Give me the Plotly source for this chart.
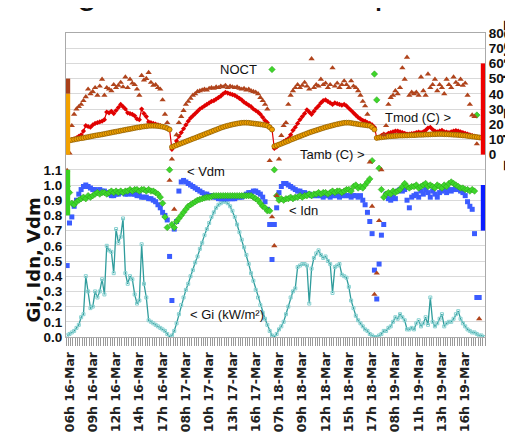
import plotly.graph_objects as go

# ---------------- data (one value per sample, 4 days of daylight samples) ----------------
tick_labels = ["06h 16-Mar", "09h 16-Mar", "12h 16-Mar", "14h 16-Mar", "17h 16-Mar",
               "08h 17-Mar", "10h 17-Mar", "13h 17-Mar", "16h 17-Mar",
               "07h 18-Mar", "09h 18-Mar", "12h 18-Mar", "15h 18-Mar", "17h 18-Mar",
               "08h 19-Mar", "11h 19-Mar", "13h 19-Mar", "16h 19-Mar"]
tick_first = 1
tick_every = 10

gi = [0.01,0.02,0.03,0.04,0.06,0.08,0.13,0.15,0.40,0.30, 0.19,0.20,0.30,0.26,0.30,0.38,0.28,0.60,0.57,0.56,
      0.42,0.71,0.62,0.66,0.78,0.42,0.35,0.40,0.38,0.28, 0.22,0.24,0.61,0.35,0.26,0.11,0.10,0.09,0.08,0.07,
      0.06,0.05,0.04,0.02,0.00,
      0.01,0.04,0.09,0.15,0.21,0.26,0.31,0.35,0.40,0.44, 0.49,0.53,0.58,0.62,0.67,0.71,0.75,0.79,0.82,0.85,
      0.87,0.88,0.89,0.89,0.88,0.86,0.83,0.79,0.74,0.69, 0.64,0.59,0.54,0.48,0.42,0.37,0.31,0.26,0.21,0.16,
      0.12,0.08,0.04,0.01,
      0.00,0.02,0.05,0.07,0.10,0.15,0.20,0.26,0.30,0.32, 0.46,0.47,0.48,0.48,0.47,0.22,0.45,0.52,0.55,0.57,
      0.54,0.52,0.53,0.50,0.48,0.29,0.46,0.47,0.48,0.41, 0.40,0.39,0.33,0.24,0.19,0.14,0.11,0.09,0.07,0.05,
      0.04,0.02,0.01,0.00,
      0.00,0.01,0.02,0.04,0.04,0.06,0.07,0.10,0.13,0.12, 0.15,0.13,0.11,0.05,0.05,0.06,0.05,0.09,0.11,0.07,
      0.09,0.13,0.08,0.26,0.10,0.07,0.09,0.12,0.15,0.07, 0.09,0.10,0.10,0.12,0.15,0.17,0.12,0.09,0.07,0.05,
      0.04,0.03,0.03,0.02,0.01,0.01,0.00]

idn = [0.47,0.75,0.79,0.86,0.90,0.94,0.97,0.99,1.00,0.99, 0.98,0.97,0.97,0.96,0.97,0.96,0.96,0.95,0.94,0.93,
       0.93,0.94,0.94,0.95,0.95,0.94,0.94,0.95,0.94,0.94, 0.93,0.93,0.92,0.92,0.92,0.91,0.91,0.90,0.89,0.87,
       0.85,0.82,0.80,0.77,0.53,
       0.24,0.71,0.76,0.96,1.02,1.03,1.02,1.01,1.00,0.99, 0.98,0.97,0.96,0.95,0.94,0.94,0.93,0.93,0.92,0.92,
       0.91,0.91,0.91,0.91,0.91,0.91,0.91,0.91,0.92,0.92, 0.92,0.93,0.94,0.95,0.95,0.96,0.96,0.95,0.94,0.92,
       0.89,0.84,0.74,0.51,
       0.74,0.85,0.95,0.99,1.01,1.01,1.00,0.99,0.98,0.97, 0.96,0.96,0.95,0.95,0.94,0.94,0.93,0.93,0.93,0.93,
       0.93,0.92,0.93,0.93,0.92,0.93,0.93,0.93,0.92,0.93, 0.93,0.93,0.93,0.92,0.93,0.93,0.92,0.93,0.90,0.87,
       0.82,0.76,0.68,0.44,
       0.25,0.48,0.67,0.74,0.94,0.91,0.90,0.92,0.91,0.96, 0.97,0.96,0.97,0.90,0.85,0.92,0.93,0.94,0.92,0.96,
       0.94,0.97,0.95,0.92,0.96,0.94,0.92,0.95,0.96,0.97, 0.95,0.97,0.96,0.97,0.98,0.97,0.96,0.95,0.93,0.89,
       0.86,0.84,0.68,0.26,0.26,None,None]

vdm = [0.99,0.95,0.88,0.87,0.89,0.90,0.91,0.92,0.91,0.93, 0.92,0.93,0.94,0.95,0.94,0.95,0.95,0.94,0.95,0.96,
       0.95,0.96,0.95,0.96,0.95,0.96,0.96,0.97,0.96,0.97, 0.97,0.96,0.97,0.97,0.96,0.97,0.96,0.96,0.95,0.94,
       0.92,0.88,0.79,0.72,1.10,
       0.74,0.72,0.76,0.78,0.80,0.82,0.84,0.86,0.87,0.88, 0.89,0.90,0.905,0.91,0.915,0.92,0.92,0.925,0.93,0.93,
       0.93,0.93,0.93,0.93,0.93,0.93,0.93,0.93,0.93,0.93, 0.93,0.93,0.93,0.93,0.93,0.92,0.91,0.90,0.88,0.86,
       0.85,0.83,0.83,1.76,
       1.10,0.93,0.90,0.91,0.90,0.91,0.91,0.92,0.91,0.92, 0.92,0.93,0.92,0.93,0.93,0.94,0.93,0.94,0.94,0.95,
       0.94,0.95,0.95,0.94,0.95,0.96,0.95,0.96,0.96,0.95, 0.96,0.97,0.97,0.96,0.99,1.00,0.98,0.99,0.98,1.00,
       1.02,1.04,1.16,1.73,
       1.56,1.11,0.97,0.92,0.94,0.95,0.94,0.96,0.95,0.96, 0.97,0.99,1.01,0.99,0.98,0.99,0.99,1.00,0.98,0.99,
       1.00,1.01,0.99,1.00,0.99,0.98,1.00,0.99,0.98,1.00, 0.99,1.01,1.02,1.01,1.00,0.99,0.98,0.98,0.97,0.97,
       0.96,0.97,0.96,1.46,None,None,None]

tmod = [9.0,9.3,9.8,10.3,11.0,12.0,13.0,15.5,19.0,18.5, 18.0,19.5,20.5,21.0,21.5,22.0,23.0,28.0,27.5,28.5,
        27.0,29.0,31.0,33.0,31.5,30.0,27.5,27.0,26.5,25.5, 23.5,23.0,30.0,27.0,25.0,21.5,21.0,20.5,20.0,19.5,
        19.0,18.5,18.0,17.5,16.5,
        3.5,6.0,9.0,12.0,14.5,17.0,19.5,22.0,24.0,25.5, 27.0,28.5,30.0,31.0,32.0,33.0,34.0,35.0,35.5,36.5,
        37.5,38.5,40.0,41.0,40.5,40.0,39.5,39.0,38.0,37.0, 36.0,34.5,33.5,32.5,31.5,30.0,29.0,28.0,26.5,24.5,
        22.5,21.0,18.5,16.5,
        4.0,5.0,6.5,7.5,8.5,9.5,10.5,13.0,16.0,18.0, 20.5,23.0,25.0,27.0,29.5,28.0,26.5,28.5,30.5,32.0,
        34.0,35.5,36.0,35.0,34.0,33.0,34.0,33.5,33.0,32.5, 33.0,32.0,30.5,29.0,27.5,26.0,24.5,23.5,22.5,22.0,
        21.0,20.5,19.5,18.0,
        11.0,11.5,12.5,13.5,13.0,14.0,14.5,15.0,15.5,15.5, 15.0,14.5,14.0,13.5,13.5,13.8,14.0,14.5,14.8,14.5,
        15.0,16.0,17.5,18.0,16.5,15.5,15.0,15.5,16.0,15.0, 14.8,14.5,15.0,15.5,15.8,15.5,15.0,14.5,14.0,13.5,
        13.0,12.5,12.0,11.5,11.2,11.0,11.0]

tamb = [9.0,9.3,9.6,9.9,10.2,10.5,10.8,11.0,11.3,11.6, 11.9,12.2,12.5,12.8,13.0,13.3,13.6,13.9,14.2,14.5,
        14.8,15.1,15.4,15.7,16.0,16.3,16.6,16.9,17.2,17.5, 17.8,18.0,18.3,18.5,18.7,18.9,19.0,19.0,18.9,18.8,
        18.6,18.3,18.0,17.3,16.5,
        5.0,5.6,6.2,6.8,7.4,8.0,8.6,9.2,9.8,10.4, 11.0,11.6,12.2,12.8,13.4,14.0,14.6,15.2,15.8,16.4,
        17.0,17.6,18.1,18.6,19.0,19.4,19.8,20.1,20.4,20.7, 20.9,21.0,21.0,20.9,20.7,20.5,20.3,20.1,19.9,19.7,
        19.4,19.0,18.0,16.5,
        5.5,6.0,6.6,7.2,7.8,8.4,9.0,9.7,10.3,10.9, 11.5,12.1,12.7,13.3,13.9,14.5,15.0,15.5,16.0,16.5,
        17.0,17.5,18.0,18.4,18.8,19.2,19.6,20.0,20.3,20.6, 20.9,21.0,21.0,20.8,20.5,20.3,20.0,19.8,19.6,19.4,
        19.2,19.0,18.0,16.5,
        11.0,11.2,11.4,11.6,11.8,12.0,12.1,12.2,12.3,12.4, 12.5,12.5,12.6,12.6,12.7,12.8,12.8,12.9,13.0,13.0,
        13.1,13.2,13.2,13.3,13.4,13.4,13.5,13.5,13.5,13.4, 13.4,13.3,13.2,13.1,13.0,12.9,12.8,12.6,12.5,12.3,
        12.1,11.9,11.7,11.5,11.3,11.1,11.0]

noct = [-10.5,1.0,19.0,26.5,30.0,31.5,33.0,35.5,38.0,43.0, 40.0,41.5,44.0,39.0,45.0,49.5,39.0,44.0,43.0,42.0,
        46.0,44.0,45.5,47.5,44.5,51.0,44.0,49.5,47.0,46.0, 43.0,39.0,52.0,49.0,50.0,54.0,47.5,45.5,46.0,44.0,
        43.0,36.0,26.5,21.0,-17.0,
        -3.0,-36.0,13.0,21.0,25.0,29.0,33.0,35.0,37.0,39.0, 40.0,41.5,42.0,42.5,43.0,42.5,43.5,44.0,43.5,44.5,
        44.0,45.0,44.5,45.5,44.0,45.0,44.5,44.0,44.5,43.5, 43.0,43.5,42.5,43.0,42.0,41.5,41.0,40.0,37.5,35.5,
        33.0,30.0,-4.0,-41.0,
        -60.0,-27.0,-3.0,12.5,19.0,21.0,33.0,39.0,42.0,44.0, 46.0,44.0,45.5,47.5,45.0,43.0,63.0,44.0,46.0,45.0,
        49.5,46.0,47.0,44.0,46.0,57.0,45.0,47.0,44.0,46.0, 48.5,46.0,44.0,48.5,45.0,44.0,42.0,39.0,35.0,32.0,
        26.5,-5.0,-34.0,-92.0,
        -78.0,-43.5,-10.0,13.0,19.0,33.0,37.5,39.0,42.0,40.0, 44.0,57.0,49.5,64.0,39.0,41.0,40.0,41.0,39.0,51.0,
        42.0,39.0,53.0,44.0,46.0,49.5,42.0,46.0,44.0,40.0, 49.5,46.0,44.0,51.0,47.5,46.0,49.5,45.5,47.0,39.0,
        33.0,26.0,25.0,7.0,-108.0,None,None]

# range bars drawn against the plot edges: (axis, low, high, colour)
left_bars = [("y2", 40, 50, "#a8401a"), ("y2", 0, 40, "#f2a100"), ("y", 0.8, 1.1, "#39d11f")]
right_bars = [("y2", 0, 60, "#ee0000"), ("y", 0.7, 1.0, "#0a1cff")]

# chart title (it sits above the picture; only its descenders reach inside)
title_text = "Degradation and Temperature"

n = len(gi)
x = list(range(n))
tickvals = [tick_first + k * tick_every for k in range(len(tick_labels))]

fig = go.Figure()
fig.add_trace(go.Scatter(x=x, y=gi, mode="lines+markers", name="Gi",
                         line=dict(color="#2f9c9c", width=1.3),
                         marker=dict(symbol="square-open", size=3, color="#86d0d0", line=dict(width=1))))
fig.add_trace(go.Scatter(x=x, y=idn, mode="markers", name="Idn",
                         marker=dict(symbol="square", size=5, color="#3b5cff")))
fig.add_trace(go.Scatter(x=x, y=vdm, mode="markers", name="Vdm",
                         marker=dict(symbol="diamond", size=5, color="#3ed62a",
                                     line=dict(color="#2a9a1a", width=0.5))))
fig.add_trace(go.Scatter(x=x, y=tmod, mode="lines+markers", name="Tmod", yaxis="y2",
                         line=dict(color="#e00000", width=1.2),
                         marker=dict(symbol="diamond", size=4, color="#e00000")))
fig.add_trace(go.Scatter(x=x, y=tamb, mode="markers", name="Tamb", yaxis="y2",
                         marker=dict(symbol="circle", size=5, color="#f0a000",
                                     line=dict(color="#8a5a00", width=0.7))))
fig.add_trace(go.Scatter(x=x, y=noct, mode="markers", name="NOCT", yaxis="y2",
                         marker=dict(symbol="triangle-up", size=5.5, color="#b0441c")))

shapes = []
for ax, lo, hi, col in left_bars:
    shapes.append(dict(type="rect", xref="paper", yref=ax, x0=0.0, x1=0.01, y0=lo, y1=hi,
                       fillcolor=col, line=dict(width=0), layer="above"))
for ax, lo, hi, col in right_bars:
    shapes.append(dict(type="rect", xref="paper", yref=ax, x0=0.99, x1=1.0, y0=lo, y1=hi,
                       fillcolor=col, line=dict(width=0), layer="above"))

lab_font = dict(family="Liberation Sans, Arial", size=13, color="#111")
annotations = [
    dict(x=73.8, y=56, xref="x", yref="y2", text="NOCT", showarrow=False, font=lab_font),
    dict(x=135.7, y=24.4, xref="x", yref="y2", text="Tmod (C) >", showarrow=False, xanchor="left", font=lab_font),
    dict(x=99.2, y=0, xref="x", yref="y2", text="Tamb (C) >", showarrow=False, xanchor="left", font=lab_font),
    dict(x=50.6, y=1.086, xref="x", yref="y", text="< Vdm", showarrow=False, xanchor="left", font=lab_font),
    dict(x=94.4, y=0.834, xref="x", yref="y", text="< Idn", showarrow=False, xanchor="left", font=lab_font),
    dict(x=51.9, y=0.146, xref="x", yref="y", text="< Gi (kW/m²)", showarrow=False, xanchor="left", font=lab_font),
    dict(x=-0.0788, y=0.51, xref="paper", yref="y", text="Gi, Idn, Vdm", showarrow=False,
         xanchor="center", yanchor="middle", textangle=-90,
         font=dict(family="DejaVu Sans", size=18, color="#111", weight="bold")),
    dict(x=1.056, y=39.3, xref="paper", yref="y2", text="Tamb, Tmod; NOCT", showarrow=False,
         xanchor="center", yanchor="middle", textangle=-90,
         font=dict(family="DejaVu Sans", size=14, color="#111", weight="bold")),
    dict(x=0.487, y=1.065, xref="paper", yref="paper", text=title_text, showarrow=False,
         xanchor="center", yanchor="bottom", font=dict(family="Liberation Sans, Arial", size=36, color="#111")),
]

tick_font = dict(family="Liberation Sans, Arial", size=13.5, color="#111", weight="bold")
fig.update_layout(
    width=513, height=438,
    margin=dict(l=58, r=36, t=25, b=109, autoexpand=False),
    paper_bgcolor="white", plot_bgcolor="white",
    showlegend=False,
    shapes=shapes, annotations=annotations,
    xaxis=dict(range=[-0.5, n - 0.5], tickmode="array", tickvals=tickvals, ticktext=tick_labels,
               tickangle=-90, ticks="", showgrid=False, zeroline=False, automargin=False,
               showline=True, linecolor="#aaaaaa", mirror=True,
               tickfont=dict(family="DejaVu Sans", size=12.5, color="#222", weight="bold"),
               ticklabelstandoff=9,
               minor=dict(ticks="outside", ticklen=8, tickcolor="#9a9a9a", tick0=-0.5, dtick=1,
                          showgrid=False)),
    yaxis=dict(range=[0, 2.0], tickmode="array", tickvals=[i / 10 for i in range(12)],
               ticktext=["%.1f" % (i / 10) for i in range(12)], showgrid=True, gridcolor="#d9d9d9",
               zeroline=False, showline=True, linecolor="#aaaaaa", ticks="", tickfont=tick_font,
               automargin=False),
    yaxis2=dict(range=[-120, 80], overlaying="y", side="right", tickmode="array",
                tickvals=list(range(0, 81, 10)), showgrid=True, gridcolor="#d9d9d9",
                zeroline=False, showline=True, linecolor="#aaaaaa", ticks="", tickfont=tick_font,
                automargin=False),
)

fig.write_html("out.html")
